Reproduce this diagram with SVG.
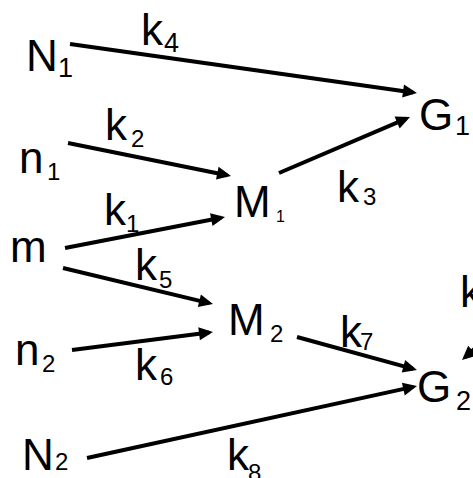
<svg xmlns="http://www.w3.org/2000/svg" width="473" height="478" viewBox="0 0 473 478">
<style>
text{font-family:"Liberation Sans",Arial,sans-serif;fill:#000}
.m{font-size:44px}
.s{font-size:24px}
.e{stroke:#000;stroke-width:4;fill:none;marker-end:url(#ah)}
</style>
<defs>
<marker id="ah" markerUnits="userSpaceOnUse" markerWidth="14" markerHeight="13" refX="10" refY="6.5" orient="auto" overflow="visible">
<path d="M0,0 L14,6.5 L0,13 z" fill="#000"/>
</marker>
</defs>
<rect width="473" height="478" fill="#fff"/>
<g id="connectors">
<line class="e" x1="70" y1="44" x2="413" y2="92.4"/>
<line class="e" x1="68" y1="143" x2="227.1" y2="175.2"/>
<line class="e" x1="65" y1="248" x2="221.1" y2="217.8"/>
<line class="e" x1="63" y1="268" x2="209.1" y2="303.1"/>
<line class="e" x1="72" y1="350" x2="209" y2="332.5"/>
<line class="e" x1="279" y1="173" x2="406.3" y2="118.6"/>
<line class="e" x1="297" y1="337" x2="413.1" y2="368.9"/>
<line class="e" x1="87" y1="458" x2="413.1" y2="386.9"/>
<line class="e" x1="480" y1="344" x2="465" y2="357.3"/>
</g>
<g id="labels">
<text class="m" x="141" y="45">k<tspan class="s" x="164" y="52" style="font-size:27px">4</tspan></text>
<text class="m" x="105" y="140">k<tspan class="s" x="131" y="147">2</tspan></text>
<text class="m" x="337" y="202">k<tspan class="s" x="363" y="205">3</tspan></text>
<text class="m" x="104" y="225">k<tspan class="s" x="126" y="232">1</tspan></text>
<text class="m" x="135" y="280">k<tspan class="s" x="159" y="288">5</tspan></text>
<text class="m" x="135" y="380">k<tspan class="s" x="160" y="385">6</tspan></text>
<text class="m" x="340" y="347">k<tspan class="s" x="360" y="350">7</tspan></text>
<text class="m" x="227" y="470">k<tspan class="s" x="248" y="481">8</tspan></text>
<text class="m" x="460" y="307">k</text>
</g>
<g id="N1"><text class="m" x="26" y="71">N<tspan class="s" x="58" y="77" style="font-size:27px">1</tspan></text></g>
<g id="n1"><text class="m" x="19" y="173">n<tspan class="s" x="47" y="180">1</tspan></text></g>
<g id="m"><text class="m" x="10" y="262">m</text></g>
<g id="n2"><text class="m" x="15" y="365">n<tspan class="s" x="42" y="372">2</tspan></text></g>
<g id="N2"><text class="m" x="22" y="470">N<tspan class="s" x="55" y="470">2</tspan></text></g>
<g id="M1"><text class="m" x="234" y="217">M<tspan x="276" y="222" style="font-size:16px">1</tspan></text></g>
<g id="M2"><text class="m" x="228" y="335">M<tspan class="s" x="270" y="342">2</tspan></text></g>
<g id="G1"><text class="m" x="419" y="130">G<tspan class="s" x="455" y="135" style="font-size:27px">1</tspan></text></g>
<g id="G2"><text class="m" x="417" y="402">G<tspan class="s" x="456" y="410" style="font-size:27px">2</tspan></text></g>
</svg>
